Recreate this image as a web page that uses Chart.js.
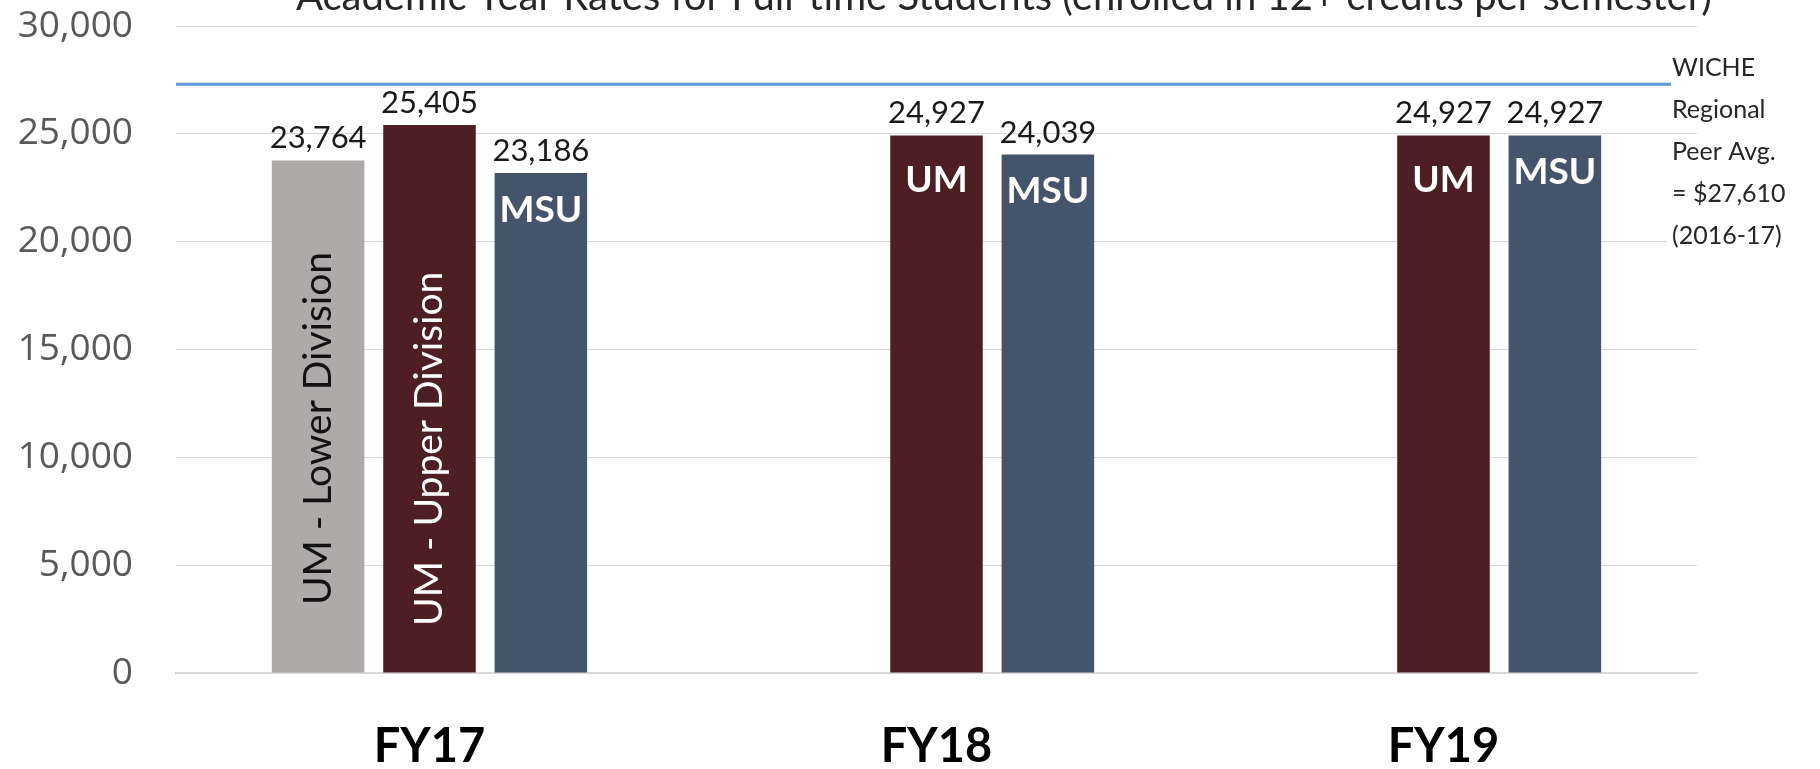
<!DOCTYPE html>
<html>
<head>
<meta charset="utf-8">
<title>Academic Year Rates</title>
<script src="https://cdn.jsdelivr.net/npm/chart.js@4.4.1/dist/chart.umd.min.js"></script>
<style>
  html, body { margin: 0; padding: 0; background: #fff; overflow: hidden; }
  #chart { display: block; }
</style>
</head>
<body>
<canvas id="chart" width="1820" height="769"></canvas>
<script>
// values
const chartTitle = 'Academic Year Rates for Full-time Students (enrolled in 12+ credits per semester)';
const categories = ['FY17', 'FY18', 'FY19'];
const seriesNames = ['UM - Lower Division', 'UM - Upper Division', 'MSU'];
const umLowerRates = [23764, null, null];
const umUpperRates = [25405, 24927, 24927];
const msuRates = [23186, 24039, 24927];
const umLowerInside = ['UM - Lower Division', null, null];
const umUpperInside = ['UM - Upper Division', 'UM', 'UM'];
const msuInside = ['MSU', 'MSU', 'MSU'];
const yTickValues = [0, 5000, 10000, 15000, 20000, 25000, 30000];
const wicheLevel = 27300;
const wicheNote = ['WICHE', 'Regional', 'Peer Avg.', '= $27,610', '(2016-17)'];

const fmt = (v) => v.toLocaleString('en-US');

const barLabels = {
    id: 'barLabels',
    afterDatasetsDraw(chart) {
        const ctx = chart.ctx;
        chart.data.datasets.forEach((ds, di) => {
            const meta = chart.getDatasetMeta(di);
            meta.data.forEach((bar, i) => {
                const value = ds.data[i];
                if (value == null) return;
                ctx.save();
                ctx.textAlign = 'center';
                ctx.fillStyle = '#1a1a1a';
                ctx.font = '31px Lato';
                ctx.textBaseline = 'alphabetic';
                ctx.fillText(fmt(value), bar.x, bar.y - 12);

                const inner = ds.inside[i];
                if (inner) {
                    ctx.fillStyle = ds.insideColor;
                    if (i === 0 && ds.rotateFirst) {
                        ctx.translate(bar.x, (bar.y + bar.base) / 2 + ds.rotateShift);
                        ctx.rotate(-Math.PI / 2);
                        ctx.font = '39px Lato';
                        ctx.textBaseline = 'middle';
                        ctx.fillText(inner, 0, 0);
                    } else {
                        ctx.font = 'bold 37px Lato';
                        ctx.textBaseline = 'middle';
                        ctx.fillText(inner, bar.x, bar.y + ds.insideDrop);
                    }
                }
                ctx.restore();
            });
        });
    },
};

const extras = {
    id: 'extras',
    afterDatasetsDraw(chart) {
        const ctx = chart.ctx;
        const area = chart.chartArea;
        const y = chart.scales.y.getPixelForValue(wicheLevel);
        const lineEnd = area.right - 26;

        ctx.save();
        ctx.strokeStyle = '#5b9bd5';
        ctx.lineWidth = 3;
        ctx.beginPath();
        ctx.moveTo(area.left, y);
        ctx.lineTo(lineEnd, y);
        ctx.stroke();

        // text box of the note hides the grid behind its lower lines
        ctx.fillStyle = '#ffffff';
        ctx.fillRect(lineEnd - 4, 140, chart.width - lineEnd + 4, 122);

        ctx.fillStyle = '#262626';
        ctx.font = '25px Lato';
        ctx.textAlign = 'left';
        ctx.textBaseline = 'middle';
        wicheNote.forEach((line, i) => {
            ctx.fillText(line, lineEnd + 1, 68 + i * 42);
        });
        ctx.restore();
    },
    afterDraw(chart) {
        const ctx = chart.ctx;
        ctx.save();
        ctx.fillStyle = '#262626';
        ctx.font = '40px Lato';
        ctx.textAlign = 'center';
        ctx.textBaseline = 'alphabetic';
        ctx.fillText(chartTitle, (chart.chartArea.left + chart.width) / 2 + 6, 10);
        ctx.restore();
    },
};

new Chart(document.getElementById('chart'), {
    type: 'bar',
    data: {
        labels: categories,
        datasets: [
            {
                label: seriesNames[0],
                data: umLowerRates,
                backgroundColor: '#aeaaaa',
                inside: umLowerInside,
                insideColor: '#111111',
                rotateFirst: true,
                rotateShift: 12,
            },
            {
                label: seriesNames[1],
                data: umUpperRates,
                backgroundColor: '#4e1f22',
                inside: umUpperInside,
                insideColor: '#ffffff',
                rotateFirst: true,
                rotateShift: 50,
                insideDrop: 45,
            },
            {
                label: seriesNames[2],
                data: msuRates,
                backgroundColor: '#44546a',
                inside: msuInside,
                insideColor: '#ffffff',
                insideDrop: 37,
            },
        ],
    },
    options: {
        responsive: false,
        animation: false,
        devicePixelRatio: 1,
        categoryPercentage: 0.659,
        barPercentage: 0.831,
        layout: { padding: { top: 26, right: 123, left: 0, bottom: 0 } },
        plugins: {
            legend: { display: false },
            tooltip: { enabled: false },
            title: { display: false },
        },
        scales: {
            x: {
                grid: { display: false, drawTicks: false },
                border: { display: true, color: '#d9d9d9', width: 2 },
                ticks: {
                    color: '#000000',
                    padding: 46,
                    font: { family: 'Lato', weight: 'bold', size: 47 },
                },
                afterFit(scale) {
                    scale.height = 96;
                    scale.paddingLeft = 0;
                    scale.paddingRight = 0;
                },
            },
            y: {
                min: 0,
                max: 30000,
                afterBuildTicks(scale) { scale.ticks = yTickValues.map((v) => ({ value: v })); },
                grid: { color: '#d9d9d9', lineWidth: 1, drawTicks: false },
                border: { display: false },
                ticks: {
                    color: '#595959',
                    padding: 43,
                    font: { family: 'Open Sans', size: 37 },
                    callback: (v) => fmt(v),
                },
                afterFit(scale) {
                    scale.width = 176;
                    scale.paddingTop = 0;
                    scale.paddingBottom = 0;
                },
            },
        },
    },
    plugins: [barLabels, extras],
});
</script>
</body>
</html>
